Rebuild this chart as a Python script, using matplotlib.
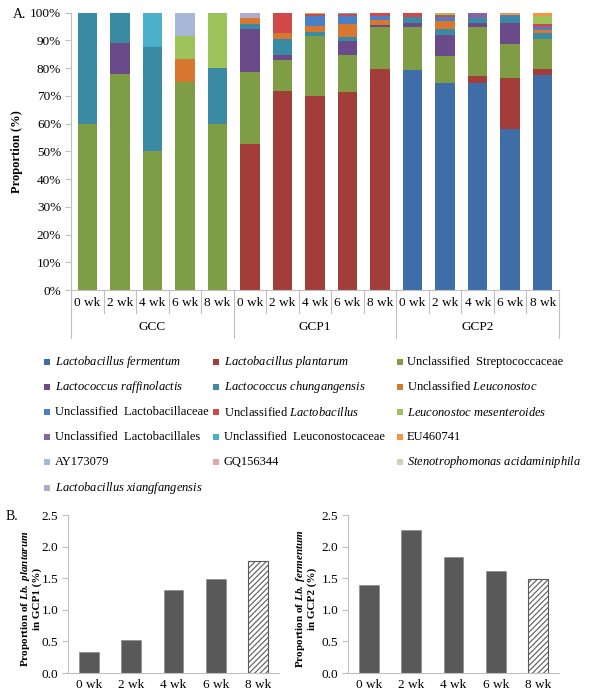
import matplotlib
matplotlib.use("Agg")
import matplotlib.pyplot as plt
from matplotlib.patches import Rectangle
import matplotlib.transforms as mtransforms
import numpy as np

plt.rcParams['font.family'] = ['Liberation Serif', 'DejaVu Serif']
plt.rcParams['mathtext.fontset'] = 'custom'
plt.rcParams['mathtext.rm'] = 'Liberation Serif'
plt.rcParams['mathtext.it'] = 'Liberation Serif:italic'
plt.rcParams['mathtext.bf'] = 'Liberation Serif:bold'
plt.rcParams['mathtext.bfit'] = 'Liberation Serif:italic:bold'
plt.rcParams['hatch.linewidth'] = 0.8

# ---- data: panel A (percent of reads) ----
groups = ['GCC', 'GCP1', 'GCP2']
weeks = ['0 wk', '2 wk', '4 wk', '6 wk', '8 wk']

ferm = [0, 0, 0, 0, 0, 0, 0, 0, 0, 0, 79.5, 74.5, 74.5, 58.1, 77.5]
plant = [0, 0, 0, 0, 0, 52.8, 71.8, 69.9, 71.4, 79.8, 0, 0, 2.6, 18.3, 2.1]
strep = [60, 77.8, 50, 75, 60, 25.8, 11.3, 21.7, 13.3, 14.9, 15.2, 9.8, 17.8, 12.3, 10.8]
raff = [0, 11.1, 0, 0, 0, 15.4, 1.8, 0, 5.2, 0.7, 1.7, 7.6, 1.5, 7.7, 0]
chung = [40, 11.1, 37.5, 0, 20, 2.1, 5.5, 1.5, 1.4, 0, 2.2, 2.1, 1.6, 1.9, 2.1]
uleuc = [0, 0, 0, 8.3, 0, 1.9, 2.1, 2.1, 4.8, 1.9, 0, 3.1, 0, 0, 1.2]
ulbaceae = [0, 0, 0, 0, 0, 0, 0, 3.6, 2.7, 1.5, 0, 1.5, 0, 1.0, 1.0]
ulb = [0, 0, 0, 0, 0, 0, 7.5, 0.7, 0.7, 1.2, 1.4, 0.6, 0, 0, 1.2]
mesent = [0, 0, 0, 8.3, 20, 0, 0, 0.5, 0, 0, 0, 0.8, 0, 0, 2.9]
ulbales = [0, 0, 0, 0, 0, 0, 0, 0, 0, 0, 0, 0, 2.0, 0, 0]
uleucaceae = [0, 0, 12.5, 0, 0, 0, 0, 0, 0.5, 0, 0, 0, 0, 0, 0]
eu460741 = [0, 0, 0, 0, 0, 0, 0, 0, 0, 0, 0, 0, 0, 0.7, 1.2]
ay173079 = [0, 0, 0, 8.4, 0, 0, 0, 0, 0, 0, 0, 0, 0, 0, 0]
gq156344 = [0] * 15
steno = [0] * 15
xiang = [0, 0, 0, 0, 0, 2.0, 0, 0, 0, 0, 0, 0, 0, 0, 0]

series = [ferm, plant, strep, raff, chung, uleuc, ulbaceae, ulb, mesent,
          ulbales, uleucaceae, eu460741, ay173079, gq156344, steno, xiang]
labels = [r'$\mathit{Lactobacillus\ fermentum}$',
          r'$\mathit{Lactobacillus\ plantarum}$',
          'Unclassified  Streptococcaceae',
          r'$\mathit{Lactococcus\ raffinolactis}$',
          r'$\mathit{Lactococcus\ chungangensis}$',
          r'Unclassified $\mathit{Leuconostoc}$',
          'Unclassified  Lactobacillaceae',
          r'Unclassified $\mathit{Lactobacillus}$',
          r'$\mathit{Leuconostoc\ mesenteroides}$',
          'Unclassified  Lactobacillales',
          'Unclassified  Leuconostocaceae',
          'EU460741',
          'AY173079',
          'GQ156344',
          r'$\mathit{Stenotrophomonas\ acidaminiphila}$',
          r'$\mathit{Lactobacillus\ xiangfangensis}$']
colors = ['#3F6DA8', '#A33D3A', '#7F9D45', '#6B4A8C', '#3A8AA3', '#D8772F',
          '#4A80C8', '#D04848', '#9DC35B', '#8466A8', '#4DB0CB', '#F5953F',
          '#A8B7D8', '#E3A7AA', '#CBD5BE', '#B3ABCC']

# ---- data: panel B ----
lb_plantarum_gcp1 = [0.34, 0.53, 1.31, 1.48, 1.77]
lb_fermentum_gcp2 = [1.39, 2.26, 1.84, 1.62, 1.49]

fig = plt.figure(figsize=(5.9, 6.96), dpi=100)
W, H = 590.0, 696.0
gray = '#BFBFBF'

# ---------------- panel A ----------------
ax = fig.add_axes([71 / W, 1 - 290 / H, (559 - 71) / W, (290 - 12.7) / H])
x = np.arange(15)
bottom = np.zeros(15)
for vals, c in zip(series, colors):
    ax.bar(x, vals, bottom=bottom, width=0.6, color=c, linewidth=0)
    bottom += np.array(vals)

ax.set_xlim(-0.5, 14.5)
ax.set_ylim(0, 100)
ax.set_yticks(range(0, 101, 10))
ax.set_yticklabels(['%d%%' % v for v in range(0, 101, 10)], fontsize=9.5)
ax.tick_params(axis='y', length=4, color=gray, pad=3)
ax.set_xticks(x)
ax.set_xticklabels(weeks * 3, fontsize=9.5)
ax.tick_params(axis='x', length=0, pad=5)
for s in ['top', 'right']:
    ax.spines[s].set_visible(False)
for s in ['left', 'bottom']:
    ax.spines[s].set_color(gray)
ax.set_ylabel('Proportion (%)', fontsize=9, fontweight='bold')
ax.yaxis.set_label_coords(-0.098, 0.5)

trans = mtransforms.blended_transform_factory(ax.transData, ax.transAxes)
for i in range(16):
    xs = i - 0.5
    y_end = -0.173 if i % 5 == 0 else -0.083
    ax.plot([xs, xs], [0, y_end], color=gray, lw=0.8, transform=trans, clip_on=False)
for g, name in enumerate(groups):
    ax.text(g * 5 + 2, -0.134, name, transform=trans, ha='center', va='center', fontsize=9.5)

fig.text(13 / W, 1 - 14 / H, 'A.', fontsize=10, ha='left', va='center')

# legend (row-major like the original)
mark_x = [44, 213, 397]
text_x = [55, 224, 407]
row_y = [362, 387, 412, 437, 462, 488]
for i, (lab, c) in enumerate(zip(labels, colors)):
    r, col = i // 3, i % 3
    fig.patches.append(Rectangle((mark_x[col] / W, 1 - (row_y[r] + 3) / H), 6 / W, 6 / H,
                                 transform=fig.transFigure, color=c, lw=0))
    fig.text(text_x[col] / W, 1 - row_y[r] / H, lab, fontsize=9, ha='left', va='center')

# ---------------- panel B ----------------
fig.text(6 / W, 1 - 517 / H, 'B.', fontsize=10, ha='left', va='center')

b_left = [68 / W, 348 / W]
label_x = [-0.123, -0.148]
ylabels = ['Proportion of $\\mathbfit{Lb.\\ plantarum}$\nin GCP1 (%)',
           'Proportion of $\\mathbfit{Lb.\\ fermentum}$\nin GCP2 (%)']
for k, vals in enumerate([lb_plantarum_gcp1, lb_fermentum_gcp2]):
    bx = fig.add_axes([b_left[k], 1 - 673 / H, 211 / W, 158 / H])
    xb = np.arange(len(weeks))
    bx.bar(xb[:-1], vals[:-1], width=0.47, color='#595959', edgecolor='#8C8C8C', lw=0.5)
    bx.bar(xb[-1:], vals[-1:], width=0.47, color='white', edgecolor='#595959',
           hatch='//////', lw=0.8)
    bx.set_xlim(-0.5, 4.5)
    bx.set_ylim(0, 2.5)
    bx.set_yticks(np.arange(0, 2.51, 0.5))
    bx.set_yticklabels(['%.1f' % v for v in np.arange(0, 2.51, 0.5)], fontsize=9.5)
    bx.set_xticks(xb)
    bx.set_xticklabels(weeks, fontsize=9.5)
    bx.tick_params(axis='x', length=0, pad=4)
    bx.tick_params(axis='y', length=4, color=gray, pad=3)
    for s in ['top', 'right']:
        bx.spines[s].set_visible(False)
    for s in ['left', 'bottom']:
        bx.spines[s].set_color(gray)
    bx.set_ylabel(ylabels[k], fontsize=8, fontweight='bold', linespacing=1.0)
    bx.yaxis.set_label_coords(label_x[k], 0.47)

fig.savefig('out.png', dpi=100)
